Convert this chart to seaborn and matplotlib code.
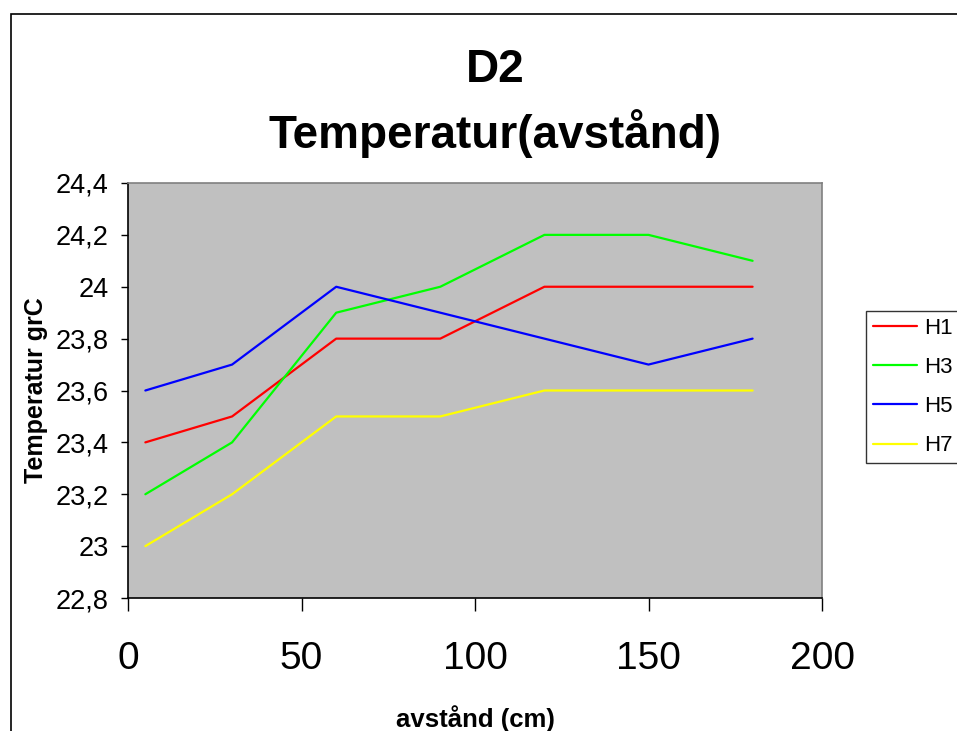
import matplotlib
matplotlib.use("Agg")
import matplotlib.pyplot as plt
import seaborn as sns
import pandas as pd
from matplotlib.patches import Rectangle
from matplotlib.ticker import FuncFormatter, MultipleLocator

sns.set_theme(style="white")
plt.rcParams['font.family'] = ['Liberation Sans', 'DejaVu Sans']
plt.rcParams['text.color'] = 'black'
plt.rcParams['axes.labelcolor'] = 'black'

distance = [5, 30, 60, 90, 120, 150, 180]
H1 = [23.4, 23.5, 23.8, 23.8, 24.0, 24.0, 24.0]
H3 = [23.2, 23.4, 23.9, 24.0, 24.2, 24.2, 24.1]
H5 = [23.6, 23.7, 24.0, 23.9, 23.8, 23.7, 23.8]
H7 = [23.0, 23.2, 23.5, 23.5, 23.6, 23.6, 23.6]
series_names = ["H1", "H3", "H5", "H7"]
colors = ["#FF0000", "#00FF00", "#0000FF", "#FFFF00"]

rows = []
for name, vals in zip(series_names, [H1, H3, H5, H7]):
    for x, y in zip(distance, vals):
        rows.append({"avstand": x, "temp": y, "serie": name})
df = pd.DataFrame(rows)

fig = plt.figure(figsize=(9.57, 7.31), dpi=100)
fig.patch.set_facecolor("white")
ax = fig.add_axes([128/957, 1-598/731, (822-128)/957, (598-183)/731])
ax.set_facecolor("#C0C0C0")

sns.lineplot(data=df, x="avstand", y="temp", hue="serie", hue_order=series_names,
             palette=colors, linewidth=1.6, ax=ax, legend=True)

ax.set_xlim(0, 200)
ax.set_ylim(22.8, 24.4)
ax.xaxis.set_major_locator(MultipleLocator(50))
ax.yaxis.set_major_locator(MultipleLocator(0.2))
ax.yaxis.set_major_formatter(FuncFormatter(lambda v, p: (f"{v:.1f}".rstrip("0").rstrip(".")).replace(".", ",")))
ax.tick_params(axis="x", direction="out", length=9, width=1, labelsize=28, pad=22, colors="black", bottom=True)
ax.tick_params(axis="y", direction="out", length=5, width=1, labelsize=19.5, pad=9, colors="black", left=True)

for s in ["left", "bottom"]:
    ax.spines[s].set_color("black")
    ax.spines[s].set_linewidth(1.2)
for s in ["top", "right"]:
    ax.spines[s].set_color("#808080")
    ax.spines[s].set_linewidth(1.2)

ax.set_xlabel("avstånd (cm)", fontsize=18.5, fontweight="bold", labelpad=20)
ax.set_ylabel("Temperatur grC", fontsize=18, fontweight="bold", labelpad=5)

fig.text(0.5175, 1-70/731, "D2", ha="center", va="center", fontsize=33, fontweight="bold")
fig.text(0.5175, 1-134/731, "Temperatur(avstånd)", ha="center", va="center", fontsize=33, fontweight="bold")

leg = ax.legend(loc="upper left", bbox_to_anchor=(866/957, 1-311/731), bbox_transform=fig.transFigure,
                frameon=True, fontsize=16, handlelength=2.0, handletextpad=0.3,
                labelspacing=0.82, borderpad=0.3, borderaxespad=0, fancybox=False, title=None)
leg.get_frame().set_edgecolor("black")
leg.get_frame().set_linewidth(1)
for line in leg.get_lines():
    line.set_linewidth(1.6)

fig.patches.append(Rectangle((11/957, -0.1), 1.2, 1.1 - 14/731, transform=fig.transFigure,
                             fill=False, edgecolor="black", linewidth=1.2))

fig.savefig("out.png", dpi=100)
